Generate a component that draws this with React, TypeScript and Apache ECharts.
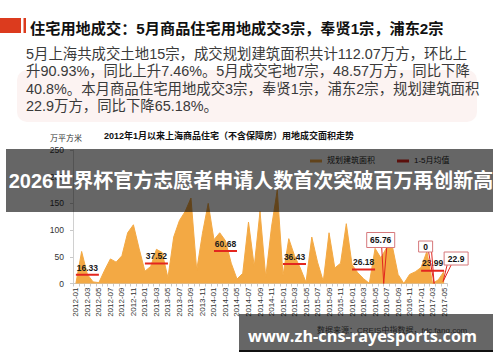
import React, { useEffect, useRef } from 'react';
import * as echarts from 'echarts';

const FONT = '"Liberation Sans", "Noto Sans CJK SC", sans-serif';
const CJK = '"Liberation Sans", "Noto Sans CJK SC", sans-serif';

const headline = '住宅用地成交：5月商品住宅用地成交3宗，奉贤1宗，浦东2宗';
const paragraph = [
  '5月上海共成交土地15宗，成交规划建筑面积共计112.07万方，环比上',
  '升90.93%，同比上升7.46%。5月成交宅地7宗，48.57万方，同比下降',
  '40.8%。本月商品住宅用地成交3宗，奉贤1宗，浦东2宗，规划建筑面积',
  '22.9万方，同比下降65.18%。',
];
const chartTitle = '2012年1月以来上海商品住宅（不含保障房）用地成交面积走势';
const yAxisName = '万平方米';
const bannerText = '2026世界杯官方志愿者申请人数首次突破百万再创新高';
const watermark = 'www.zh-cns-rayesports.com';
const sourceText = '数据来源：CREIS中指数据，fdc.fang.com';

const categories = [
  '2012-01', '2012-02', '2012-03', '2012-04', '2012-05', '2012-06', '2012-07', '2012-08', '2012-09', '2012-10', '2012-11', '2012-12',
  '2013-01', '2013-02', '2013-03', '2013-04', '2013-05', '2013-06', '2013-07', '2013-08', '2013-09', '2013-10', '2013-11', '2013-12',
  '2014-01', '2014-02', '2014-03', '2014-04', '2014-05', '2014-06', '2014-07', '2014-08', '2014-09', '2014-10', '2014-11', '2014-12',
  '2015-01', '2015-02', '2015-03', '2015-04', '2015-05', '2015-06', '2015-07', '2015-08', '2015-09', '2015-10', '2015-11', '2015-12',
  '2016-01', '2016-02', '2016-03', '2016-04', '2016-05', '2016-06', '2016-07', '2016-08', '2016-09', '2016-10', '2016-11', '2016-12',
  '2017-01', '2017-02', '2017-03', '2017-04', '2017-05',
];

const areaValues = [
  0, 60, 17, 3, 1.65, 25, 46, 40, 52, 95, 110, 65,
  23, 32, 64, 58, 10.6, 87, 118, 135, 160, 25, 94, 150,
  82, 95, 80, 38, 8.4, 19, 115, 32, 135, 12, 106, 175,
  15, 84, 52, 29, 2.15, 87, 40, 4, 95, 29, 38, 112,
  35, 20, 9, 0.24, 65.76, 48, 67, 70, 17, 0, 17, 22,
  30, 60, 0, 7.05, 22.9,
];

const meanYears = ['2012', '2013', '2014', '2015', '2016', '2017'];
const meanValues = [16.33, 37.52, 60.68, 36.43, 26.18, 23.99];
const meanMonths = ['01', '02', '03', '04', '05'];

const callouts = [
  { text: '65.76', at: ['2016-06', '2016-07'] },
  { text: '0', at: ['2017-03'] },
  { text: '22.9', at: ['2017-05'] },
];

const ORANGE = '#F3A944';
const RED = '#E3261F';

export default function App() {
  const ref = useRef<HTMLDivElement>(null);

  useEffect(() => {
    if (!ref.current) return;
    const chart = echarts.init(ref.current, null, { renderer: 'svg' });

    const meanData: any[] = categories.map(() => null);
    meanYears.forEach((yr, k) => {
      meanMonths.forEach((m, j) => {
        const idx = categories.indexOf(`${yr}-${m}`);
        if (idx >= 0) {
          meanData[idx] = j === 2 ? { value: meanValues[k], label: { show: true } } : meanValues[k];
        }
      });
    });

    const option: any = {
      animation: false,
      backgroundColor: '#ffffff',
      textStyle: { fontFamily: FONT },
      title: {
        text: chartTitle,
        left: 104,
        top: 131,
        padding: 0,
        textStyle: { fontSize: 9, fontWeight: 'bold', color: '#111', fontFamily: FONT },
      },
      legend: {
        left: 310,
        top: 157,
        padding: 0,
        icon: 'rect',
        itemWidth: 12,
        itemHeight: 3,
        itemGap: 22,
        textStyle: { fontSize: 8, color: '#222', fontFamily: FONT },
        data: ['规划建筑面积', '1-5月均值'],
      },
      grid: { left: 73, right: 53, top: 150, bottom: 78.5, containLabel: false },
      xAxis: {
        type: 'category',
        data: categories,
        boundaryGap: true,
        axisLine: { lineStyle: { color: '#c8c8c8' } },
        axisTick: { show: true, interval: 0, length: 3, lineStyle: { color: '#c8c8c8' } },
        axisLabel: { rotate: 90, interval: 1, fontSize: 8, color: '#333', margin: 4 },
        splitLine: { show: false },
      },
      yAxis: {
        type: 'value',
        min: 0,
        max: 250,
        interval: 50,
        name: yAxisName,
        nameGap: 8,
        nameTextStyle: { fontSize: 8, color: '#333', padding: [0, 14, 0, 0] },
        axisLine: { show: true, lineStyle: { color: '#d0d0d0' } },
        axisTick: { show: true, length: 3, lineStyle: { color: '#c8c8c8' } },
        splitLine: { show: false },
        axisLabel: { fontSize: 8.5, color: '#333', margin: 9 },
      },
      series: [
        {
          name: '规划建筑面积',
          type: 'line',
          data: areaValues,
          symbol: 'none',
          lineStyle: { width: 1, color: ORANGE },
          itemStyle: { color: ORANGE },
          areaStyle: { color: ORANGE, opacity: 1 },
          z: 2,
        },
        {
          name: '1-5月均值',
          type: 'line',
          data: meanData,
          connectNulls: false,
          symbol: 'circle',
          symbolSize: 0,
          showSymbol: true,
          showAllSymbol: true,
          itemStyle: { color: RED },
          lineStyle: { color: RED, width: 2 },
          label: {
            show: false,
            position: 'top',
            distance: 3,
            fontSize: 8.5,
            fontWeight: 'bold',
            color: '#1a1a1a',
          },
          z: 3,
        },
      ],
    };
    chart.setOption(option);

    const px = (cat: string, v: number) =>
      chart.convertToPixel({ xAxisIndex: 0, yAxisIndex: 0 }, [categories.indexOf(cat), v]) as number[];

    const y0 = px(categories[0], 0)[1];
    const anchors = callouts.map((c) => {
      const xs = c.at.map((cat) => px(cat, 0)[0]);
      return xs.reduce((a, b) => a + b, 0) / xs.length;
    });

    // callout geometry: [boxLeftOffset, boxTopOffset(from baseline), width, height, ptrA, ptrB, tipDx, tipDy]
    const geom = [
      [-17, -51, 28, 15, -2, 3, 0, 0],
      [-14, -42.5, 14, 11, -4, -1, 1.5, 0],
      [0, -31.5, 24, 13, 3, 7, -1, -2],
    ];

    const calloutEls: any[] = [];
    callouts.forEach((c, i) => {
      const ax = anchors[i];
      const [bx, by, bw, bh, pa, pb, tdx, tdy] = geom[i];
      const left = ax + bx;
      const top = y0 + by;
      const bottom = top + bh;
      calloutEls.push({
        type: 'line',
        z: 20,
        shape: { x1: ax + pa, y1: bottom, x2: ax + tdx, y2: y0 + tdy },
        style: { stroke: RED, lineWidth: 1 },
      });
      calloutEls.push({
        type: 'line',
        z: 20,
        shape: { x1: ax + pb, y1: bottom, x2: ax + tdx, y2: y0 + tdy },
        style: { stroke: RED, lineWidth: 1 },
      });
      calloutEls.push({
        type: 'rect',
        z: 21,
        shape: { x: left, y: top, width: bw, height: bh },
        style: { fill: '#ffffff', stroke: '#d6787b', lineWidth: 1 },
      });
      calloutEls.push({
        type: 'text',
        z: 22,
        x: left + bw / 2,
        y: top + bh / 2,
        style: {
          text: c.text,
          fontSize: 8.5,
          fontWeight: 'bold',
          fontFamily: FONT,
          fill: '#111',
          align: 'center',
          verticalAlign: 'middle',
        },
      });
    });

    const graphic: any[] = [
      { type: 'rect', z: 1, shape: { x: 17, y: 70, width: 460, height: 52, r: 10 }, style: { fill: '#fcf3f2' } },
      { type: 'rect', z: 5, shape: { x: 0, y: 18, width: 21, height: 15 }, style: { fill: '#DC3B1E' } },
      { type: 'rect', z: 5, shape: { x: 23.5, y: 18, width: 2.5, height: 15 }, style: { fill: '#DC3B1E' } },
      {
        type: 'text',
        z: 5,
        x: 30,
        y: 28.3,
        style: {
          text: headline,
          fontSize: 15.2,
          fontWeight: 'bold',
          fontFamily: CJK,
          fill: '#111',
          verticalAlign: 'middle',
        },
      },
      ...paragraph.map((line, i) => ({
        type: 'text',
        z: 5,
        x: 26,
        y: 53.5 + i * 17.6,
        style: {
          text: line,
          fontSize: 14.4,
          fontFamily: CJK,
          fill: '#3a3a3a',
          verticalAlign: 'middle',
        },
      })),
      ...calloutEls,
      {
        type: 'text',
        z: 5,
        x: 317,
        y: 330,
        style: { text: sourceText, fontSize: 8, fontFamily: FONT, fill: '#555', verticalAlign: 'middle' },
      },
      { type: 'rect', z: 100, shape: { x: 6, y: 149, width: 487, height: 63 }, style: { fill: 'rgba(0,0,0,0.6)' } },
      {
        type: 'text',
        z: 101,
        x: 251,
        y: 181,
        style: {
          text: bannerText,
          fontSize: 20,
          fontWeight: 'bold',
          fontFamily: CJK,
          fill: '#ffffff',
          align: 'center',
          verticalAlign: 'middle',
        },
      },
      { type: 'rect', z: 100, shape: { x: 239, y: 314, width: 254, height: 36 }, style: { fill: 'rgba(0,0,0,0.6)' } },
      { type: 'rect', z: 100, shape: { x: 239, y: 350, width: 254, height: 2 }, style: { fill: '#111' } },
      {
        type: 'text',
        z: 101,
        x: 248,
        y: 336,
        style: {
          text: watermark,
          fontSize: 16.3,
          fontWeight: 'bold',
          fontFamily: '"Open Sans", "Noto Sans", sans-serif',
          fill: '#ffffff',
          verticalAlign: 'middle',
        },
      },
    ];

    chart.setOption({ graphic });

    return () => {
      chart.dispose();
    };
  }, []);

  return (
    <div
      ref={ref}
      style={{ position: 'absolute', left: 0, top: 0, width: 500, height: 362, background: '#fff' }}
    />
  );
}
